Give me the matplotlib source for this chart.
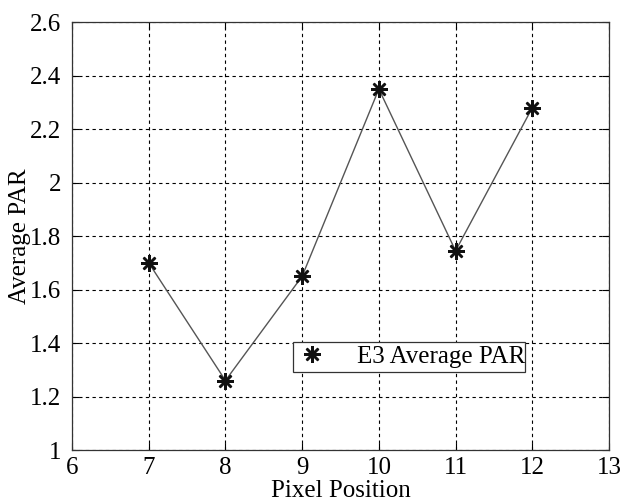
import matplotlib
matplotlib.use("Agg")
import matplotlib.pyplot as plt

# Times-like serif face for all text
plt.rcParams["font.family"] = "serif"
plt.rcParams["font.serif"] = ["Liberation Serif", "DejaVu Serif"]
plt.rcParams["font.size"] = 18

# E3 average PAR per pixel position
pixel_pos = [7, 8, 9, 10, 11, 12]
avg_par = [1.70, 1.26, 1.65, 2.35, 1.745, 2.28]

x_ticks = [6, 7, 8, 9, 10, 11, 12, 13]
y_ticks = [1, 1.2, 1.4, 1.6, 1.8, 2, 2.2, 2.4, 2.6]
y_tick_labels = ["1", "1.2", "1.4", "1.6", "1.8", "2", "2.2", "2.4", "2.6"]

fig = plt.figure(figsize=(6.22, 5.04), dpi=100)
ax = fig.add_axes([0.1158, 0.107, 0.8633, 0.849])

# connecting line drawn separately so the legend shows only the marker
ax.plot(pixel_pos, avg_par, color="#555555", linewidth=1.0, zorder=3)
ax.plot(pixel_pos, avg_par, linestyle="none", marker=(8, 2, 0), markersize=12,
        markeredgewidth=1.8, color="#111111", label="E3 Average PAR", zorder=4)

ax.set_xlim(6, 13)
ax.set_ylim(1, 2.6)
ax.set_xticks(x_ticks)
ax.set_yticks(y_ticks)
ax.set_yticklabels(y_tick_labels)

ax.grid(True, color="black", linestyle=(0, (3, 3)), linewidth=0.8)
ax.set_axisbelow(True)
ax.tick_params(direction="in", top=True, right=True, length=5, width=0.8)
ax.tick_params(axis="x", pad=5)
ax.tick_params(axis="y", pad=8)
for sp in ax.spines.values():
    sp.set_linewidth(0.9)
    sp.set_color("#333333")

ax.set_xlabel("Pixel Position", labelpad=1)
ax.set_ylabel("Average PAR", labelpad=-1)

leg = ax.legend(loc="lower left", bbox_to_anchor=(0.389, 0.154, 0.477, 0.075),
                mode="expand", fancybox=False, framealpha=1, edgecolor="#333333",
                handlelength=1.2, handletextpad=1.2, borderpad=0.15, fontsize=18)
leg.get_frame().set_linewidth(0.9)

fig.savefig("out.png", dpi=100)
